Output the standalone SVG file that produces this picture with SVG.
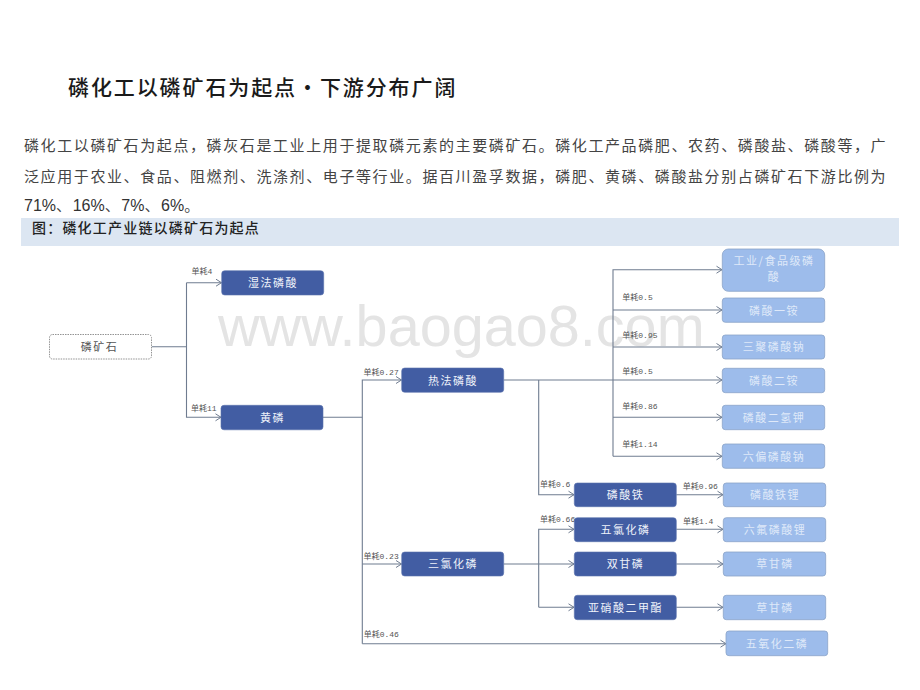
<svg xmlns="http://www.w3.org/2000/svg" width="920" height="690" viewBox="0 0 920 690">
<style>
text{font-family:"Noto Sans CJK SC","Noto Sans",sans-serif}
.title{font-size:21px;font-weight:500;letter-spacing:1.9px;fill:#1a1a1a}
.body{font-size:15px;letter-spacing:1.6px;fill:#444;font-weight:400}
.latin{font-family:"Liberation Sans",sans-serif;font-size:16px;letter-spacing:0;fill:#333}
.cap{font-size:14px;font-weight:500;letter-spacing:1.2px;fill:#222}
.wm{font-family:"Liberation Sans",sans-serif;font-size:57.6px;fill:#e4e4e4}
.c{fill:none;stroke:#6f7c90;stroke-width:1.1}
.a{marker-end:url(#arr)}
.n rect{rx:3px;ry:3px}
.n text{font-size:11px;letter-spacing:1.5px;text-anchor:middle}
.dark rect{fill:#425da3;stroke:#5a72ad;stroke-width:.6}
.dark text{fill:#eef2fa}
.light rect{fill:#9dbceb;stroke:#8aa3c8;stroke-width:.8}
.light text{fill:#dfe9f9}
.start rect{fill:#fff;stroke:#777;stroke-width:.8;stroke-dasharray:1.5 1}
.start text{fill:#555}
.l{font-family:"Liberation Mono","Noto Sans CJK SC",monospace;font-size:8px;fill:#555;dominant-baseline:central}
</style>
<defs>
<marker id="arr" markerUnits="userSpaceOnUse" markerWidth="8" markerHeight="10" refX="6" refY="5" orient="auto">
<path d="M0.5 1.5L6 5L0.5 8.5" fill="none" stroke="#6f7c90" stroke-width="1"/>
</marker>
</defs>
<rect width="920" height="690" fill="#fff"/>
<text class="title" x="68" y="95">磷化工以磷矿石为起点·下游分布广阔</text>
<text class="body" x="24" y="151">磷化工以磷矿石为起点，磷灰石是工业上用于提取磷元素的主要磷矿石。磷化工产品磷肥、农药、磷酸盐、磷酸等，广</text>
<text class="body" x="24" y="182">泛应用于农业、食品、阻燃剂、洗涤剂、电子等行业。据百川盈孚数据，磷肥、黄磷、磷酸盐分别占磷矿石下游比例为</text>
<text class="body" x="24" y="211"><tspan class="latin">71%</tspan>、<tspan class="latin">16%</tspan>、<tspan class="latin">7%</tspan>、<tspan class="latin">6%</tspan>。</text>
<rect x="21" y="218" width="878" height="28" fill="#dce6f2"/>
<text class="cap" x="32" y="233">图：磷化工产业链以磷矿石为起点</text>
<text class="wm" x="218" y="346">www.baogao8.com</text>
<g id="connectors">
<path class="c" d="M151.7 346.7H186.5V282.7"/>
<path class="c a" d="M186.5 282.7H221.5"/>
<path class="c a" d="M186.5 346.7V417.3H221"/>
<path class="c" d="M323 417.3H362.3"/>
<path class="c a" d="M362.3 643.7V380H401.5"/>
<path class="c a" d="M362.3 564H401.5"/>
<path class="c a" d="M362.3 643.7H726"/>
<path class="c" d="M503.7 380H613"/>
<path class="c a" d="M613 456.3V269.7H722"/>
<path class="c a" d="M613 310H722"/>
<path class="c a" d="M613 347H722"/>
<path class="c a" d="M613 380H722"/>
<path class="c a" d="M613 417.3H722"/>
<path class="c a" d="M613 456.3H722"/>
<path class="c a" d="M538.7 380V494.7H574"/>
<path class="c" d="M503.7 564H538.7"/>
<path class="c a" d="M538.7 607.3V529.3H574"/>
<path class="c a" d="M538.7 564H574"/>
<path class="c a" d="M538.7 607.3H574"/>
<path class="c a" d="M676.3 494.7H723"/>
<path class="c a" d="M676.3 529.3H723"/>
<path class="c a" d="M676.3 564H723"/>
<path class="c a" d="M676.3 607.3H723"/>
<text class="l" x="191.5" y="271.5">单耗4</text>
<text class="l" x="191" y="408.7">单耗11</text>
<text class="l" x="363.5" y="372.3">单耗0.27</text>
<text class="l" x="363.5" y="556.3">单耗0.23</text>
<text class="l" x="363.7" y="634">单耗0.46</text>
<text class="l" x="540" y="484.3">单耗0.6</text>
<text class="l" x="540" y="519.3">单耗0.66</text>
<text class="l" x="682.7" y="486.3">单耗0.96</text>
<text class="l" x="683" y="521.3">单耗1.4</text>
<text class="l" x="622.3" y="297.7">单耗0.5</text>
<text class="l" x="622.3" y="335">单耗0.95</text>
<text class="l" x="622.3" y="371.5">单耗0.5</text>
<text class="l" x="622.3" y="406.7">单耗0.86</text>
<text class="l" x="622.3" y="444.7">单耗1.14</text>
</g>
<g id="n-ore" class="n start"><rect x="49.5" y="334.5" width="102" height="24.5"/><text x="99.5" y="351">磷矿石</text></g>
<g id="n-wet" class="n dark"><rect x="221.7" y="270.7" width="102" height="24.3"/><text x="273" y="287">湿法磷酸</text></g>
<g id="n-yp" class="n dark"><rect x="221" y="405.3" width="102" height="24.5"/><text x="272.5" y="422">黄磷</text></g>
<g id="n-thermal" class="n dark"><rect x="401.7" y="368" width="102" height="24.3"/><text x="453" y="384.5">热法磷酸</text></g>
<g id="n-pcl3" class="n dark"><rect x="401.7" y="552" width="102" height="24"/><text x="453" y="568.3">三氯化磷</text></g>
<g id="n-fepo4" class="n dark"><rect x="574.3" y="483" width="102" height="23.7"/><text x="625.5" y="499">磷酸铁</text></g>
<g id="n-pcl5" class="n dark"><rect x="574.3" y="517.7" width="102" height="24"/><text x="625.5" y="534">五氯化磷</text></g>
<g id="n-dgp" class="n dark"><rect x="574.3" y="552" width="102" height="24"/><text x="625.5" y="568.3">双甘磷</text></g>
<g id="n-dmp" class="n dark"><rect x="574.3" y="595.3" width="102" height="24.4"/><text x="625.5" y="611.8">亚硝酸二甲酯</text></g>
<g id="n-food" class="n light"><rect x="722.3" y="249" width="102.4" height="42.3" style="rx:6px;ry:6px"/><text x="774" y="265">工业/食品级磷</text><text x="774" y="281">酸</text></g>
<g id="n-map" class="n light"><rect x="722.3" y="298" width="102.4" height="24.3"/><text x="774" y="314.5">磷酸一铵</text></g>
<g id="n-stpp" class="n light"><rect x="722.3" y="335" width="102.4" height="24"/><text x="774" y="351.3">三聚磷酸钠</text></g>
<g id="n-dap" class="n light"><rect x="722.3" y="368.3" width="102.4" height="24.4"/><text x="774" y="384.8">磷酸二铵</text></g>
<g id="n-mkp" class="n light"><rect x="722.3" y="405.3" width="102.4" height="24.4"/><text x="774" y="421.8">磷酸二氢钾</text></g>
<g id="n-shmp" class="n light"><rect x="722.3" y="444" width="102.4" height="24.3"/><text x="774" y="460.5">六偏磷酸钠</text></g>
<g id="n-lfp" class="n light"><rect x="723.3" y="483" width="102.4" height="23.7"/><text x="775" y="499">磷酸铁锂</text></g>
<g id="n-lipf6" class="n light"><rect x="723.3" y="517.7" width="102.4" height="24"/><text x="775" y="534">六氟磷酸锂</text></g>
<g id="n-gly1" class="n light"><rect x="723.3" y="552" width="102.4" height="24"/><text x="775" y="568.3">草甘磷</text></g>
<g id="n-gly2" class="n light"><rect x="723.3" y="595.3" width="102.4" height="24.4"/><text x="775" y="611.8">草甘磷</text></g>
<g id="n-p2o5" class="n light"><rect x="726" y="631" width="101.7" height="24.7"/><text x="777" y="647.6">五氧化二磷</text></g>
</svg>
